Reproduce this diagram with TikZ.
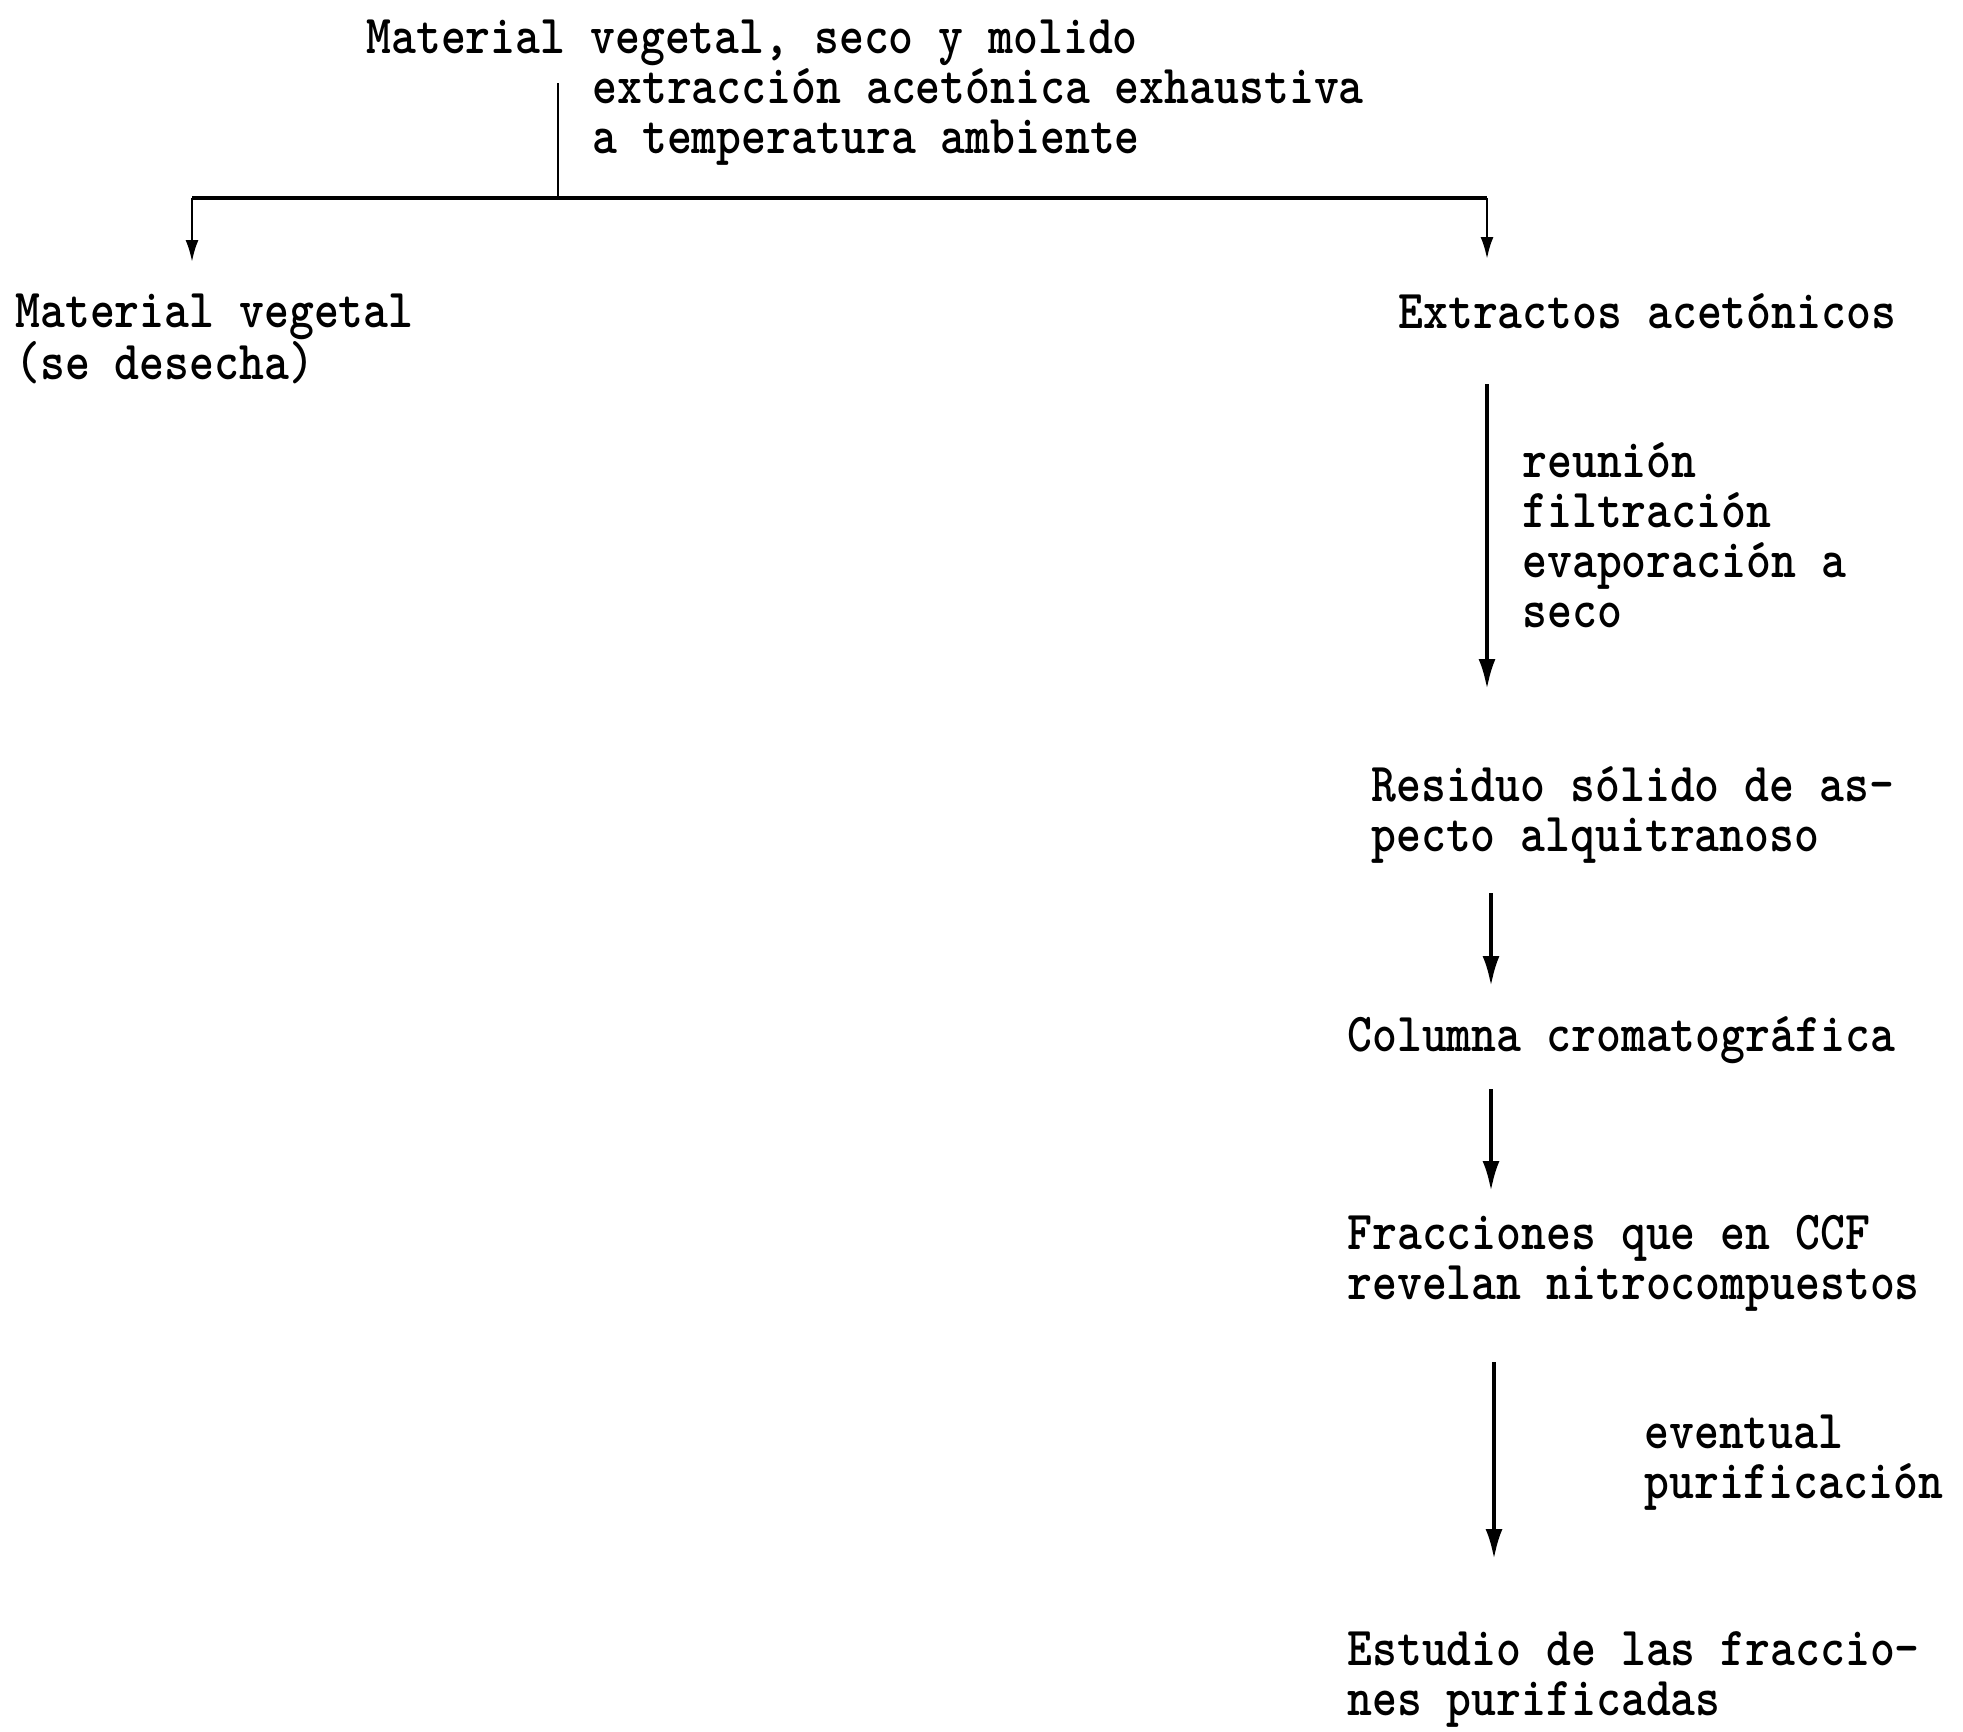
\documentclass[tikz,border=0pt]{standalone}
\usepackage{graphicx}
\usetikzlibrary{arrows.meta}
\newcommand{\tl}[1]{\scalebox{1}[1.16]{#1}}
\tikzset{
  txt/.style={anchor=north west, inner sep=0pt, align=left, font=\ttfamily\bfseries\fontsize{23.7}{25}\selectfont},
  thinline/.style={line width=1.2pt},
  smallarr/.style={line width=1.3pt, -{Latex[length=11pt,width=6.5pt]}},
  bigarr/.style={line width=1.8pt, -{Latex[length=15pt,width=8.5pt]}},
}
\begin{document}
\begin{tikzpicture}[x=0.5pt,y=-0.5pt]
\useasboundingbox (0,0) rectangle (1963,1731);
\node[txt] (top) at (366,19) {\tl{Material vegetal, seco y molido}};
\node[txt] (ext) at (592,68) {\tl{extracción acetónica exhaustiva}\\\tl{a temperatura ambiente}};
\node[txt] (mv) at (15,293) {\tl{Material vegetal}\\\tl{(se desecha)}};
\node[txt] (ea) at (1398,293) {\tl{Extractos acetónicos}};
\node[txt] (reu) at (1522,442) {\tl{reunión}\\\tl{filtración}\\\tl{evaporación a}\\\tl{seco}};
\node[txt] (res) at (1371,766) {\tl{Residuo sólido de as-}\\\tl{pecto alquitranoso}};
\node[txt] (col) at (1347,1016) {\tl{Columna cromatográfica}};
\node[txt] (fra) at (1347,1215) {\tl{Fracciones que en CCF}\\\tl{revelan nitrocompuestos}};
\node[txt] (eve) at (1644,1414) {\tl{eventual}\\\tl{purificación}};
\node[txt] (est) at (1347,1631) {\tl{Estudio de las fraccio-}\\\tl{nes purificadas}};

\coordinate (t0) at (558,83);
\coordinate (t1) at (558,198);
\coordinate (hl) at (192,198);
\coordinate (hr) at (1487,198);
\coordinate (al) at (192,262);
\coordinate (ar) at (1487,259);
\coordinate (a2s) at (1487,384);
\coordinate (a2e) at (1487,689);
\coordinate (a3s) at (1491,893);
\coordinate (a3e) at (1491,986);
\coordinate (a4s) at (1491,1089);
\coordinate (a4e) at (1491,1191);
\coordinate (a5s) at (1494,1362);
\coordinate (a5e) at (1494,1559);

\draw[thinline] (t0) -- (t1);
\draw[line width=2pt] (hl) -- (hr);
\draw[smallarr] (hl) -- (al);
\draw[smallarr] (hr) -- (ar);
\draw[bigarr] (a2s) -- (a2e);
\draw[bigarr] (a3s) -- (a3e);
\draw[bigarr] (a4s) -- (a4e);
\draw[bigarr] (a5s) -- (a5e);
\end{tikzpicture}
\end{document}
